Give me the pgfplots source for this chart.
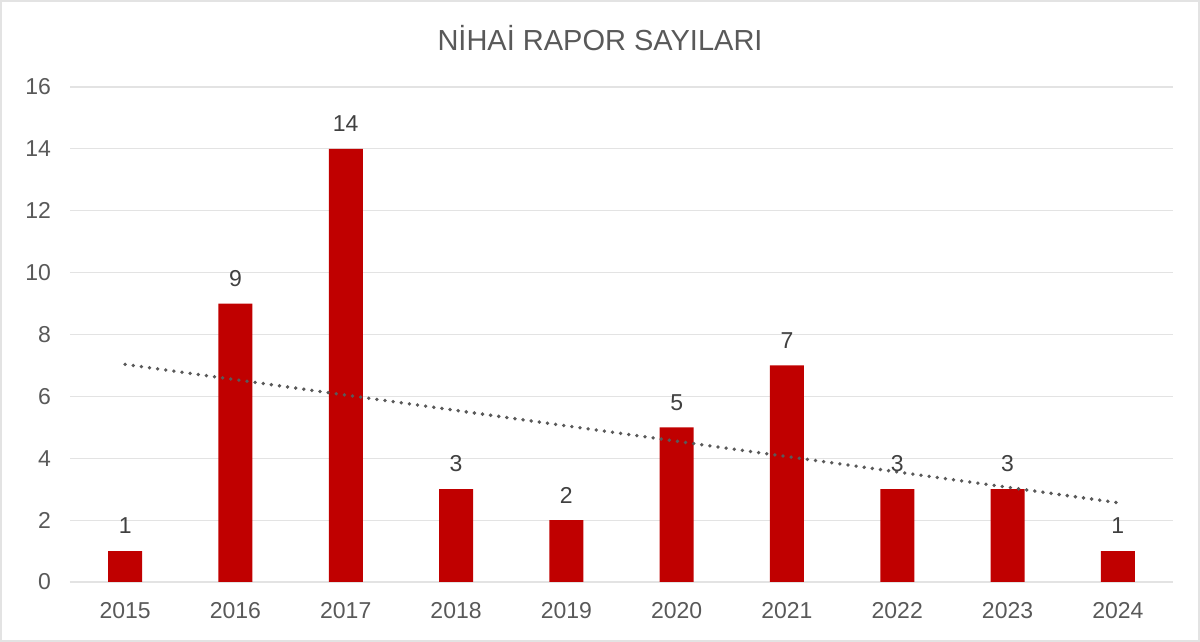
\documentclass[border=0pt]{standalone}
\usepackage{pgfplots}
\pgfplotsset{compat=1.18}
\usepackage{fontspec}
\setmainfont{Liberation Sans}
\definecolor{barred}{HTML}{C00000}
\definecolor{gridgray}{HTML}{E3E3E3}
\definecolor{txtgray}{HTML}{595959}
\definecolor{lblgray}{HTML}{404040}
\begin{document}
\begin{tikzpicture}
\draw[gridgray, line width=1pt] (-34.5pt,-29.5pt) rectangle (564.5pt,290.5pt);
\begin{axis}[
  at={(0,0)}, anchor=south west,
  scale only axis,
  width=551.5pt, height=247.5pt,
  xmin=-0.5, xmax=9.5,
  ymin=0, ymax=16,
  ytick={0,2,...,16},
  xtick={0,...,9},
  xticklabels={2015,2016,2017,2018,2019,2020,2021,2022,2023,2024},
  /pgf/number format/assume math mode=true,
  tick label style={font=\fontsize{11.5}{13}\selectfont, text=txtgray},
  yticklabel style={xshift=-6pt},
  xticklabel style={yshift=-6.5pt},
  major tick length=0pt,
  axis line style={draw=none},
  axis x line*=bottom,
  axis y line*=left,
  ymajorgrids,
  grid style={gridgray, line width=0.6pt},
  clip=false,
]
\draw[gridgray, line width=0.8pt] (axis cs:-0.5,0) -- (axis cs:9.5,0);
\addplot[ybar, bar width=17pt, fill=barred, draw=none,
  nodes near coords,
  every node near coord/.append style={font=\fontsize{11.5}{13}\selectfont, text=lblgray, yshift=5pt}]
  coordinates {(0,1) (1,9) (2,14) (3,3) (4,2) (5,5) (6,7) (7,3) (8,3) (9,1)};
\addplot[txtgray, line width=1.9pt, line cap=round, dash pattern=on 0pt off 4.1pt, no markers]
  coordinates {(0,7.036) (9,2.564)};
\node[text=txtgray, font=\fontsize{14.5}{17}\selectfont] at (265pt,272pt) {NİHAİ RAPOR SAYILARI};
\end{axis}
\end{tikzpicture}
\end{document}
